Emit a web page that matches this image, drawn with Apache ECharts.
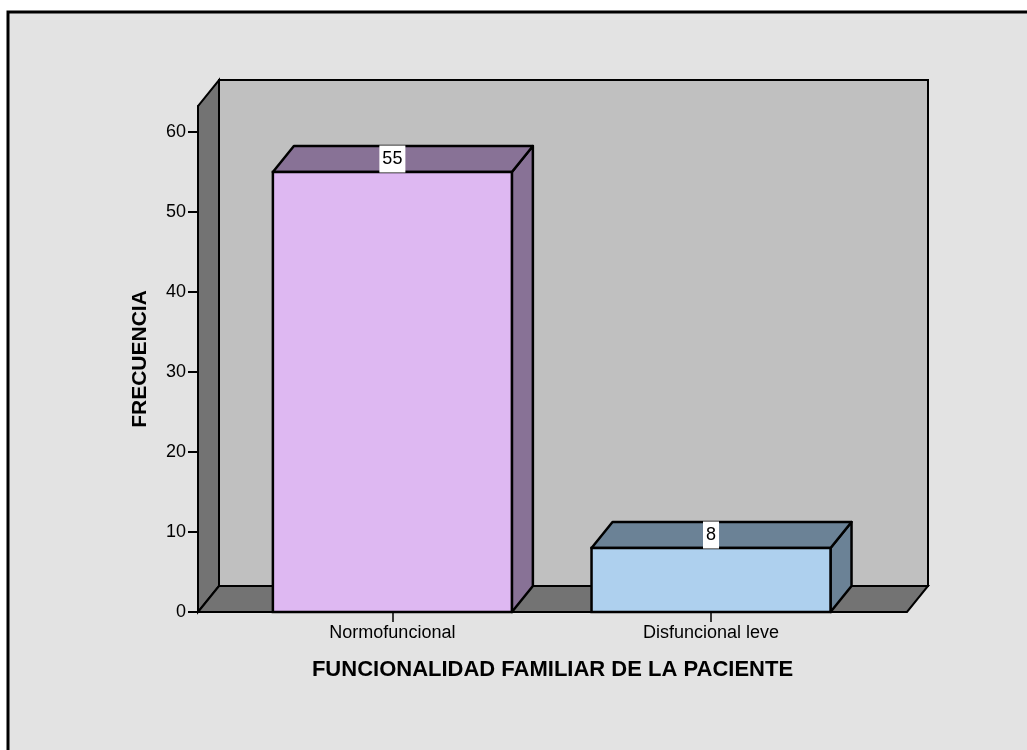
<!DOCTYPE html>
<html>
<head>
<meta charset="utf-8">
<script src="https://cdn.jsdelivr.net/npm/echarts@6/dist/echarts.min.js"></script>
<style>
  html, body { margin: 0; padding: 0; background: #ffffff; }
  #chart { width: 1027px; height: 750px; }
</style>
</head>
<body>
<div id="chart"></div>
<script>
// Frequency of family functionality categories
const categories = ['Normofuncional', 'Disfuncional leve'];
const frecuencia = [55, 8];
const yTicks = [0, 10, 20, 30, 40, 50, 60];
const xTicks = [0, 1];

// Per-bar colours: front face, top/side faces
const frontColors = ['#DEB8F2', '#AED0EE'];
const shadeColors = ['#887296', '#6B8296'];

// 3D depth offset in pixels and bar width in category units
const DX = 21, DY = -26;
const BAR_WIDTH = 0.75;
const EDGE = '#000000';
const FONT = '"Liberation Sans", Arial, sans-serif';

const chart = echarts.init(document.getElementById('chart'), null, { renderer: 'canvas' });

function renderWalls(params, api) {
  const cs = params.coordSys;
  const x = cs.x, y = cs.y, w = cs.width, h = cs.height;
  const lw = 2;
  return {
    type: 'group',
    children: [
      { // back wall
        type: 'rect',
        shape: { x: x + DX, y: y + DY, width: w, height: h },
        style: { fill: '#C0C0C0', stroke: EDGE, lineWidth: lw }
      },
      { // left wall
        type: 'polygon',
        shape: { points: [[x, y + h], [x, y], [x + DX, y + DY], [x + DX, y + h + DY]] },
        style: { fill: '#737373', stroke: EDGE, lineWidth: lw }
      },
      { // floor
        type: 'polygon',
        shape: { points: [[x, y + h], [x + w, y + h], [x + w + DX, y + h + DY], [x + DX, y + h + DY]] },
        style: { fill: '#737373', stroke: EDGE, lineWidth: lw }
      }
    ]
  };
}

function renderBar(params, api) {
  const i = params.dataIndex;
  const xi = api.value(0), v = api.value(1);
  const p0 = api.coord([xi - BAR_WIDTH / 2, 0]);
  const p1 = api.coord([xi + BAR_WIDTH / 2, v]);
  const left = p0[0], right = p1[0], bottom = p0[1], top = p1[1];
  const lw = 2.5;
  return {
    type: 'group',
    children: [
      {
        type: 'polygon',
        shape: { points: [[right, top], [right, bottom], [right + DX, bottom + DY], [right + DX, top + DY]] },
        style: { fill: shadeColors[i], stroke: EDGE, lineWidth: lw, lineJoin: 'round' }
      },
      {
        type: 'polygon',
        shape: { points: [[left, top], [right, top], [right + DX, top + DY], [left + DX, top + DY]] },
        style: { fill: shadeColors[i], stroke: EDGE, lineWidth: lw, lineJoin: 'round' }
      },
      {
        type: 'rect',
        shape: { x: left, y: top, width: right - left, height: bottom - top },
        style: { fill: frontColors[i], stroke: EDGE, lineWidth: lw }
      },
      {
        type: 'text',
        style: {
          x: (left + right) / 2,
          y: top + DY / 2,
          text: String(v),
          align: 'center',
          verticalAlign: 'middle',
          font: '18px ' + FONT,
          fill: '#000000',
          backgroundColor: '#FFFFFF',
          padding: [5, 3, 4, 3]
        }
      }
    ]
  };
}

chart.setOption({
  backgroundColor: '#FFFFFF',
  animation: false,
  graphic: [{
    type: 'rect',
    z: -10,
    shape: { x: 8, y: 12, width: 1100, height: 800 },
    style: { fill: '#E3E3E3', stroke: '#000000', lineWidth: 3 }
  }],
  grid: { left: 198, right: 120, top: 106, bottom: 138 },
  xAxis: {
    type: 'value',
    min: -0.61,
    max: 1.615,
    axisLine: { show: false, onZero: false },
    splitLine: { show: false },
    axisTick: { show: true, customValues: xTicks, length: 10, lineStyle: { color: '#000', width: 1.5 } },
    axisLabel: {
      customValues: xTicks,
      formatter: function (val) { return categories[Math.round(val)]; },
      margin: 12,
      color: '#000',
      fontSize: 18,
      fontFamily: FONT
    },
    name: 'FUNCIONALIDAD FAMILIAR DE LA PACIENTE',
    nameLocation: 'middle',
    nameGap: 47,
    nameTextStyle: { color: '#000', fontSize: 22, fontWeight: 'bold', fontFamily: FONT }
  },
  yAxis: {
    type: 'value',
    min: 0,
    max: 63.25,
    z: 5,
    axisLine: { show: true, onZero: false, lineStyle: { color: '#000', width: 2 } },
    splitLine: { show: false },
    axisTick: { show: true, inside: false, customValues: yTicks, length: 10, lineStyle: { color: '#000', width: 2 } },
    axisLabel: {
      customValues: yTicks,
      margin: 12,
      color: '#000',
      fontSize: 18,
      fontFamily: FONT
    },
    name: 'FRECUENCIA',
    nameLocation: 'middle',
    nameGap: 47,
    nameTextStyle: { color: '#000', fontSize: 21, fontWeight: 'bold', fontFamily: FONT }
  },
  series: [
    {
      type: 'custom',
      z: 1,
      clip: false,
      silent: true,
      renderItem: renderWalls,
      data: [[0, 0]]
    },
    {
      type: 'custom',
      z: 2,
      clip: false,
      renderItem: renderBar,
      data: frecuencia.map(function (v, i) { return [i, v]; })
    }
  ]
});
</script>
</body>
</html>
